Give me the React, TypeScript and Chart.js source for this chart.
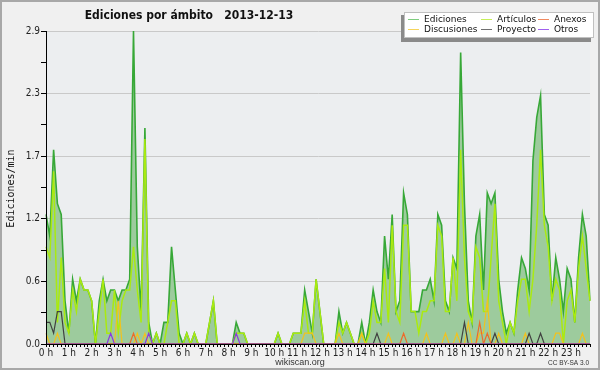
import React, { useEffect, useRef } from "react";
import { Chart, registerables } from "chart.js";

Chart.register(...registerables);

// 10-minute slots of the day (categories)
const SLOTS: string[] = [];
for (let h = 0; h < 24; h++) for (let m = 0; m < 60; m += 10) SLOTS.push(`${h}:${m < 10 ? "0" + m : m}`);

const EDICIONES = [
  1.2, 1.0, 1.8, 1.3, 1.2, 0.4, 0.1, 0.6, 0.4, 0.6, 0.5, 0.5, 0.4, 0.0, 0.4, 0.6, 0.4, 0.5, 0.5, 0.4, 0.5, 0.5, 0.6, 2.9,
  0.9, 0.3, 2.0, 0.2, 0.0, 0.1, 0.0, 0.2, 0.2, 0.9, 0.5, 0.1, 0.0, 0.1, 0.0, 0.1, 0.0, 0.0, 0.0, 0.2, 0.4, 0.0, 0.0, 0.0,
  0.0, 0.0, 0.2, 0.1, 0.1, 0.0, 0.0, 0.0, 0.0, 0.0, 0.0, 0.0, 0.0, 0.1, 0.0, 0.0, 0.0, 0.1, 0.1, 0.1, 0.5, 0.3, 0.1, 0.6,
  0.3, 0.0, 0.0, 0.0, 0.0, 0.3, 0.1, 0.2, 0.1, 0.0, 0.0, 0.2, 0.0, 0.2, 0.5, 0.3, 0.2, 1.0, 0.6, 1.2, 0.3, 0.4, 1.4, 1.2,
  0.3, 0.3, 0.3, 0.5, 0.5, 0.6, 0.4, 1.2, 1.1, 0.4, 0.3, 0.8, 0.7, 2.7, 1.3, 0.4, 0.2, 1.0, 1.2, 0.5, 1.4, 1.3, 1.4, 0.6,
  0.3, 0.1, 0.2, 0.1, 0.5, 0.8, 0.7, 0.5, 1.7, 2.1, 2.3, 1.2, 1.1, 0.4, 0.8, 0.6, 0.3, 0.7, 0.6, 0.2, 0.8, 1.2, 1.0, 0.4,
];
const ARTICULOS = [
  0.9, 0.8, 1.6, 0.2, 0.8, 0.2, 0.1, 0.5, 0.3, 0.6, 0.5, 0.5, 0.4, 0.0, 0.3, 0.6, 0.1, 0.1, 0.5, 0.1, 0.4, 0.5, 0.5, 0.9,
  0.5, 0.2, 1.9, 0.1, 0.0, 0.1, 0.0, 0.0, 0.2, 0.4, 0.4, 0.0, 0.0, 0.1, 0.0, 0.1, 0.0, 0.0, 0.0, 0.2, 0.4, 0.0, 0.0, 0.0,
  0.0, 0.0, 0.1, 0.1, 0.1, 0.0, 0.0, 0.0, 0.0, 0.0, 0.0, 0.0, 0.0, 0.1, 0.0, 0.0, 0.0, 0.1, 0.1, 0.1, 0.4, 0.1, 0.1, 0.6,
  0.3, 0.0, 0.0, 0.0, 0.0, 0.2, 0.1, 0.2, 0.1, 0.0, 0.0, 0.1, 0.0, 0.1, 0.4, 0.2, 0.2, 0.7, 0.2, 1.1, 0.3, 0.2, 1.1, 1.1,
  0.3, 0.3, 0.1, 0.3, 0.3, 0.4, 0.4, 1.1, 1.0, 0.3, 0.3, 0.8, 0.4, 1.8, 0.8, 0.3, 0.2, 0.9, 0.8, 0.3, 0.3, 0.8, 1.3, 0.4,
  0.2, 0.0, 0.2, 0.1, 0.4, 0.6, 0.6, 0.3, 0.6, 1.1, 1.8, 1.1, 0.9, 0.4, 0.6, 0.5, 0.0, 0.4, 0.5, 0.2, 0.7, 1.0, 0.7, 0.4,
];
const DISCUSIONES = [
  0.1, 0.0, 0.0, 0.1, 0.0, 0.0, 0.0, 0.0, 0.0, 0.0, 0.0, 0.0, 0.0, 0.0, 0.0, 0.0, 0.0, 0.0, 0.0, 0.4, 0.0, 0.0, 0.0, 0.0,
  0.1, 0.0, 0.1, 0.0, 0.0, 0.0, 0.0, 0.0, 0.0, 0.0, 0.0, 0.0, 0.0, 0.0, 0.0, 0.0, 0.0, 0.0, 0.0, 0.0, 0.0, 0.0, 0.0, 0.0,
  0.0, 0.0, 0.0, 0.0, 0.0, 0.0, 0.0, 0.0, 0.0, 0.0, 0.0, 0.0, 0.0, 0.0, 0.0, 0.0, 0.0, 0.0, 0.0, 0.0, 0.1, 0.1, 0.1, 0.0,
  0.0, 0.0, 0.0, 0.0, 0.0, 0.1, 0.0, 0.0, 0.0, 0.0, 0.0, 0.1, 0.0, 0.0, 0.0, 0.0, 0.0, 0.0, 0.1, 0.0, 0.0, 0.0, 0.0, 0.0,
  0.0, 0.0, 0.0, 0.0, 0.1, 0.0, 0.0, 0.0, 0.0, 0.1, 0.0, 0.0, 0.1, 0.0, 0.0, 0.2, 0.0, 0.0, 0.1, 0.1, 0.4, 0.0, 0.0, 0.1,
  0.0, 0.0, 0.0, 0.0, 0.0, 0.0, 0.1, 0.0, 0.0, 0.0, 0.0, 0.0, 0.0, 0.0, 0.1, 0.1, 0.0, 0.0, 0.0, 0.0, 0.0, 0.1, 0.0, 0.0,
];
const PROYECTO = [
  0.2, 0.2, 0.1, 0.3, 0.3, 0.0, 0.0, 0.0, 0.0, 0.0, 0.0, 0.0, 0.0, 0.0, 0.0, 0.0, 0.0, 0.0, 0.0, 0.0, 0.0, 0.0, 0.0, 0.0,
  0.0, 0.0, 0.0, 0.0, 0.0, 0.0, 0.0, 0.0, 0.0, 0.0, 0.0, 0.0, 0.0, 0.0, 0.0, 0.0, 0.0, 0.0, 0.0, 0.0, 0.0, 0.0, 0.0, 0.0,
  0.0, 0.0, 0.0, 0.0, 0.0, 0.0, 0.0, 0.0, 0.0, 0.0, 0.0, 0.0, 0.0, 0.0, 0.0, 0.0, 0.0, 0.0, 0.0, 0.0, 0.0, 0.0, 0.0, 0.0,
  0.0, 0.0, 0.0, 0.0, 0.0, 0.0, 0.0, 0.0, 0.0, 0.0, 0.0, 0.0, 0.0, 0.0, 0.0, 0.1, 0.0, 0.0, 0.0, 0.0, 0.0, 0.0, 0.0, 0.0,
  0.0, 0.0, 0.0, 0.0, 0.0, 0.0, 0.0, 0.0, 0.0, 0.0, 0.0, 0.0, 0.0, 0.0, 0.2, 0.0, 0.0, 0.0, 0.0, 0.0, 0.0, 0.0, 0.1, 0.0,
  0.0, 0.0, 0.0, 0.0, 0.0, 0.0, 0.0, 0.1, 0.0, 0.0, 0.1, 0.0, 0.0, 0.0, 0.0, 0.0, 0.0, 0.0, 0.0, 0.0, 0.0, 0.0, 0.0, 0.0,
];
const ANEXOS = [
  0.0, 0.0, 0.0, 0.0, 0.0, 0.0, 0.0, 0.0, 0.0, 0.0, 0.0, 0.0, 0.0, 0.0, 0.0, 0.0, 0.0, 0.0, 0.0, 0.0, 0.0, 0.0, 0.0, 0.1,
  0.0, 0.0, 0.0, 0.0, 0.0, 0.0, 0.0, 0.0, 0.0, 0.0, 0.0, 0.0, 0.0, 0.0, 0.0, 0.0, 0.0, 0.0, 0.0, 0.0, 0.0, 0.0, 0.0, 0.0,
  0.0, 0.0, 0.0, 0.0, 0.0, 0.0, 0.0, 0.0, 0.0, 0.0, 0.0, 0.0, 0.0, 0.0, 0.0, 0.0, 0.0, 0.0, 0.0, 0.0, 0.0, 0.0, 0.0, 0.0,
  0.0, 0.0, 0.0, 0.0, 0.0, 0.0, 0.0, 0.0, 0.0, 0.0, 0.0, 0.0, 0.0, 0.0, 0.0, 0.0, 0.0, 0.0, 0.0, 0.0, 0.0, 0.0, 0.1, 0.0,
  0.0, 0.0, 0.0, 0.0, 0.0, 0.0, 0.0, 0.0, 0.0, 0.0, 0.0, 0.0, 0.0, 0.0, 0.0, 0.0, 0.0, 0.0, 0.2, 0.0, 0.1, 0.0, 0.0, 0.0,
  0.0, 0.0, 0.0, 0.0, 0.0, 0.0, 0.0, 0.0, 0.0, 0.0, 0.0, 0.0, 0.0, 0.0, 0.0, 0.0, 0.0, 0.0, 0.0, 0.0, 0.0, 0.0, 0.0, 0.0,
];
const OTROS = [
  0.0, 0.0, 0.0, 0.0, 0.0, 0.0, 0.0, 0.0, 0.0, 0.0, 0.0, 0.0, 0.0, 0.0, 0.0, 0.0, 0.0, 0.1, 0.0, 0.0, 0.0, 0.0, 0.0, 0.0,
  0.0, 0.0, 0.0, 0.1, 0.0, 0.0, 0.0, 0.0, 0.0, 0.0, 0.0, 0.0, 0.0, 0.0, 0.0, 0.0, 0.0, 0.0, 0.0, 0.0, 0.0, 0.0, 0.0, 0.0,
  0.0, 0.0, 0.1, 0.0, 0.0, 0.0, 0.0, 0.0, 0.0, 0.0, 0.0, 0.0, 0.0, 0.0, 0.0, 0.0, 0.0, 0.0, 0.0, 0.0, 0.0, 0.0, 0.0, 0.0,
  0.0, 0.0, 0.0, 0.0, 0.0, 0.0, 0.0, 0.0, 0.0, 0.0, 0.0, 0.0, 0.0, 0.0, 0.0, 0.0, 0.0, 0.0, 0.0, 0.0, 0.0, 0.0, 0.0, 0.0,
  0.0, 0.0, 0.0, 0.0, 0.0, 0.0, 0.0, 0.0, 0.0, 0.0, 0.0, 0.0, 0.0, 0.0, 0.0, 0.0, 0.0, 0.0, 0.0, 0.0, 0.0, 0.0, 0.0, 0.0,
  0.0, 0.0, 0.0, 0.0, 0.0, 0.0, 0.0, 0.0, 0.0, 0.0, 0.0, 0.0, 0.0, 0.0, 0.0, 0.0, 0.0, 0.0, 0.0, 0.0, 0.0, 0.0, 0.0, 0.0,
];

const Y_TICKS = [0, 0.29, 0.58, 0.87, 1.16, 1.45, 1.74, 2.03, 2.32, 2.61, 2.9];
const Y_LABELS = ["0.0", "", "0.6", "", "1.2", "", "1.7", "", "2.3", "", "2.9"];

const TITLE = "Ediciones por ámbito   2013-12-13";
const Y_TITLE = "Ediciones/min";
const FOOTER = "wikiscan.org";
const LICENSE = "CC BY-SA 3.0";

const SERIES = [
  { label: "Ediciones", data: EDICIONES, color: "#37a837", legend: "#7fcd7f", width: 1.6, order: 10 },
  { label: "Artículos", data: ARTICULOS, color: "#aaea10", legend: "#c6ef5a", width: 1.5, order: 6 },
  { label: "Anexos", data: ANEXOS, color: "#ee6a2a", legend: "#f08a60", width: 1.2, order: 2 },
  { label: "Discusiones", data: DISCUSIONES, color: "#f2c21e", legend: "#f5d45c", width: 1.2, order: 5 },
  { label: "Proyecto", data: PROYECTO, color: "#404040", legend: "#707070", width: 1.2, order: 3 },
  { label: "Otros", data: OTROS, color: "#8a38e0", legend: "#a060ee", width: 1.2, order: 1 },
];

const NARROW = '"Liberation Sans Narrow", "DejaVu Sans Condensed", "Liberation Sans", sans-serif';

const decorPlugin = {
  id: "decor",
  beforeDraw(chart: any) {
    const { ctx, chartArea: a, width, height } = chart;
    ctx.save();
    ctx.fillStyle = "#f0f0f0";
    ctx.fillRect(0, 0, width, height);
    ctx.fillStyle = "#eceef0";
    ctx.fillRect(a.left, a.top, a.right - a.left, a.bottom - a.top);
    ctx.strokeStyle = "#a8a8a8";
    ctx.lineWidth = 2;
    ctx.strokeRect(1, 1, width - 2, height - 2);
    ctx.restore();
  },
  afterDatasetsDraw(chart: any) {
    const { ctx, chartArea: a } = chart;
    ctx.save();
    ctx.strokeStyle = "#000";
    ctx.lineWidth = 1;
    ctx.beginPath();
    ctx.moveTo(Math.round(a.left) + 0.5, a.top);
    ctx.lineTo(Math.round(a.left) + 0.5, a.bottom);
    ctx.stroke();
    ctx.restore();
  },
  afterDraw(chart: any) {
    const { ctx } = chart;
    ctx.save();
    // title
    ctx.fillStyle = "#111";
    ctx.font = `bold 12px ${NARROW}`;
    ctx.textAlign = "center";
    ctx.textBaseline = "alphabetic";
    ctx.fillText(TITLE, 189, 18.5);
    // y title
    ctx.save();
    ctx.translate(13.5, 188.5);
    ctx.rotate(-Math.PI / 2);
    ctx.font = '10px "DejaVu Sans Mono", monospace';
    ctx.fillStyle = "#111";
    ctx.fillText(Y_TITLE, 0, 0);
    ctx.restore();
    // footer
    ctx.font = '9px "Liberation Sans", sans-serif';
    ctx.fillStyle = "#333";
    ctx.textAlign = "center";
    ctx.fillText(FOOTER, 300, 364.5);
    ctx.font = '6.5px "Liberation Sans", sans-serif';
    ctx.textAlign = "right";
    ctx.fillText(LICENSE, 589, 364.5);
    // legend
    const bx = 404, by = 12, bw = 190, bh = 26;
    ctx.fillStyle = "#8a8a8a";
    ctx.fillRect(bx - 3, by + 3, bw, bh + 1);
    ctx.fillStyle = "#ffffff";
    ctx.fillRect(bx, by, bw, bh);
    ctx.strokeStyle = "#c0c0c0";
    ctx.lineWidth = 1;
    ctx.strokeRect(bx + 0.5, by + 0.5, bw - 1, bh - 1);
    const cols = [408, 481, 538];
    const rows = [19, 29];
    ctx.font = '9px "DejaVu Sans", sans-serif';
    ctx.textAlign = "left";
    ctx.textBaseline = "alphabetic";
    SERIES.forEach((s, k) => {
      const c = k % 3;
      const r = Math.floor(k / 3);
      const x = cols[c];
      const y = rows[r];
      ctx.strokeStyle = s.legend;
      ctx.lineWidth = 1;
      ctx.beginPath();
      ctx.moveTo(x, y + 0.5);
      ctx.lineTo(x + 11, y + 0.5);
      ctx.stroke();
      ctx.fillStyle = "#111";
      ctx.fillText(s.label, x + 16, y + 3);
    });
    ctx.restore();
  },
};

export default function App() {
  const ref = useRef<HTMLCanvasElement | null>(null);
  useEffect(() => {
    document.body.style.margin = "0";
    const canvas = ref.current;
    if (!canvas) return;
    const chart = new Chart(canvas, {
      type: "line",
      data: {
        labels: SLOTS,
        datasets: SERIES.map((s) => ({
          label: s.label,
          data: s.data,
          borderColor: s.color,
          backgroundColor: s.label === "Ediciones" ? "#9dcb9d" : s.color,
          fill: s.label === "Ediciones" ? "origin" : false,
          borderWidth: s.width,
          pointRadius: 0,
          tension: 0,
          order: s.order,
        })),
      },
      options: {
        animation: false,
        responsive: false,
        devicePixelRatio: 1,
        layout: { padding: { left: 0, top: 31, right: 10, bottom: 6 } },
        plugins: { legend: { display: false }, title: { display: false }, tooltip: { enabled: false } },
        scales: {
          x: {
            type: "category",
            offset: false,
            z: 1,
            grid: { drawOnChartArea: false, tickLength: 3, tickColor: "#000", tickWidth: 1 },
            border: { color: "#000", width: 1 },
            ticks: {
              autoSkip: false,
              maxRotation: 0,
              minRotation: 0,
              padding: 0,
              color: "#222",
              font: { family: NARROW, size: 10 },
              callback: (_v: any, i: number) => (i % 6 === 0 ? `${i / 6} h` : ""),
            },
            afterFit: (s: any) => {
              s.height = 20;
            },
          },
          y: {
            min: 0,
            max: 2.9,
            afterBuildTicks: (s: any) => {
              s.ticks = Y_TICKS.map((v) => ({ value: v }));
            },
            afterFit: (s: any) => {
              s.width = 46;
            },
            grid: {
              color: (c: any) => (c.index % 2 === 0 ? "#c9c9c9" : "rgba(0,0,0,0)"),
              tickColor: "#000",
              tickLength: 5,
              lineWidth: 1,
            },
            border: { color: "#000", width: 1 },
            ticks: {
              padding: 1,
              color: "#222",
              font: { family: NARROW, size: 10 },
              callback: (_v: any, i: number) => Y_LABELS[i],
            },
          },
        },
      },
      plugins: [decorPlugin],
    } as any);
    return () => chart.destroy();
  }, []);
  return <canvas ref={ref} width={600} height={370} style={{ display: "block", width: 600, height: 370 }} />;
}
